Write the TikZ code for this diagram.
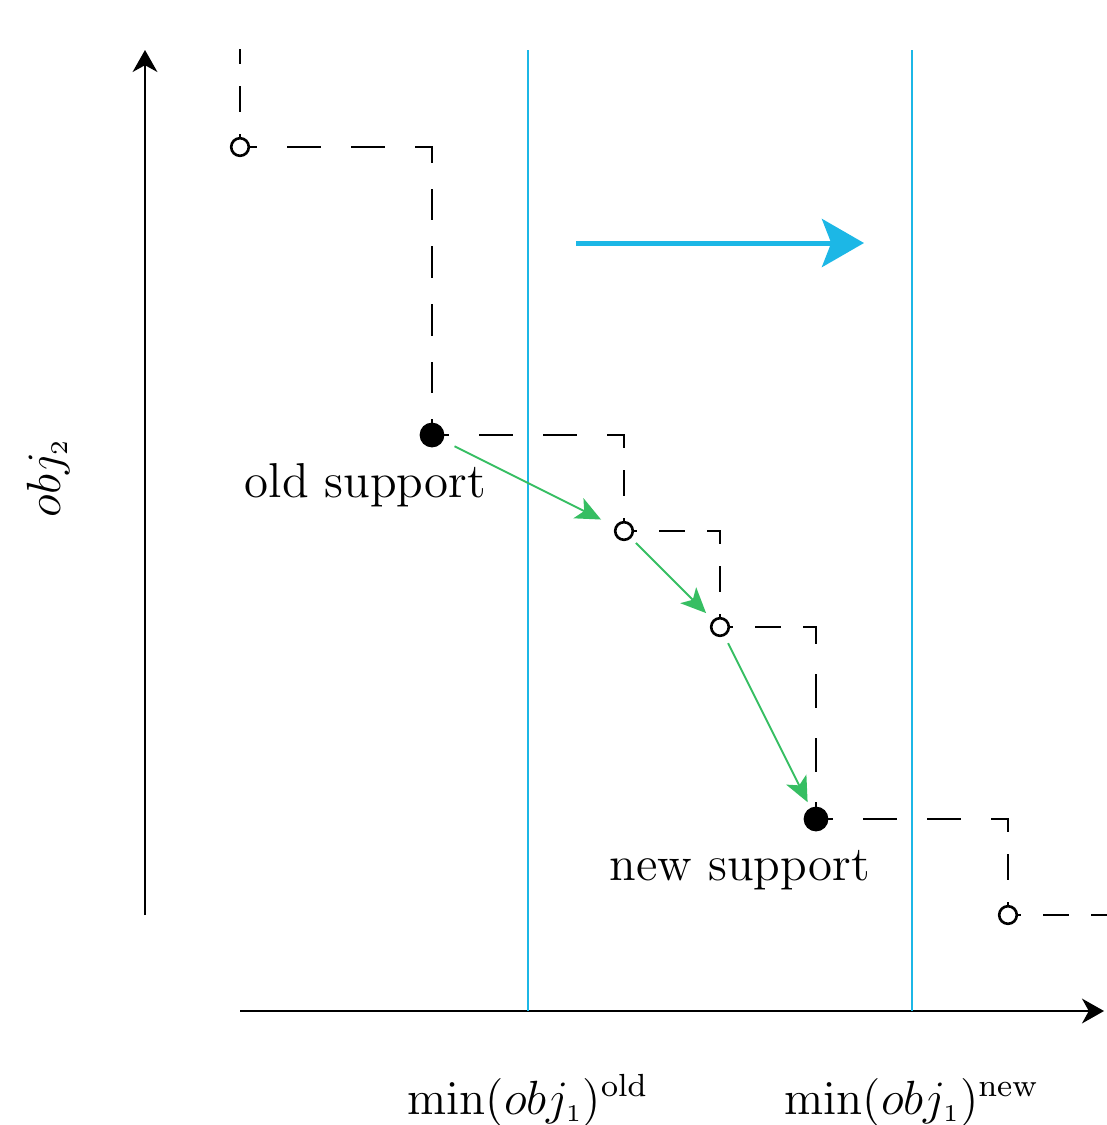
\documentclass[tikz,border=0pt]{standalone}
\usetikzlibrary{arrows.meta}
\definecolor{cblue}{RGB}{28,183,230}
\definecolor{cgreen}{RGB}{54,190,98}
\begin{document}
\begin{tikzpicture}[x=0.25pt,y=-0.25pt,
  every node/.style={font=\fontsize{12.25}{14}\selectfont},
  dsh/.style={line width=0.7pt, line cap=rect},
  d64/.style={dsh, dash pattern=on 8pt off 8pt, dash phase=4pt},
  d48/.style={dsh, dash pattern=on 6pt off 6pt, dash phase=3pt},
  d576/.style={dsh, dash pattern=on 7.2pt off 7.2pt, dash phase=3.6pt},
  opendot/.style={circle, draw, line width=0.65pt, fill=white, minimum size=4.4pt, inner sep=0pt},
  fulldot/.style={circle, fill=black, minimum size=6.2pt, inner sep=0pt},
  axis/.style={line width=0.5pt, -{Stealth[length=5.5pt,width=6.2pt,inset=1.7pt]}},
  vline/.style={cblue, line width=0.5pt},
  garrow/.style={cgreen, line width=0.5pt, -{Stealth[length=6.3pt,width=5.6pt,inset=1.6pt]}},
  lbl/.style={inner sep=0pt},
  mlbl/.style={inner sep=0pt, font=\fontsize{11.7}{14}\selectfont},
]
\useasboundingbox (0,0) rectangle (1106,1125);

% corner coordinates
\coordinate (top) at (240,50);
\coordinate (c1) at (432,147);
\coordinate (c2) at (624,435);
\coordinate (c3) at (720,531);
\coordinate (c4) at (816,627);
\coordinate (c5) at (1008,819);
\coordinate (end) at (1106,915);

% axes
\coordinate (ya0) at (145,915);
\coordinate (ya1) at (145,50);
\coordinate (xa0) at (240,1011);
\coordinate (xa1) at (1104,1011);
\draw[axis] (ya0) -- (ya1);
\draw[axis] (xa0) -- (xa1);

% blue vertical lines
\coordinate (v1t) at (528,50);
\coordinate (v1b) at (528,1011);
\coordinate (v2t) at (912,50);
\coordinate (v2b) at (912,1011);
\draw[vline] (v1t) -- (v1b);
\draw[vline] (v2t) -- (v2b);

% blue arrow
\coordinate (ba) at (576,243);
\coordinate (bb) at (864,243);
\draw[cblue, line width=1.25pt, -{Stealth[length=10.5pt,width=12pt,inset=2.3pt]}] (ba) -- (bb);

% point positions
\path (240,147) coordinate (q0) (432,435) coordinate (q1) (624,531) coordinate (q2)
      (720,627) coordinate (q3) (816,819) coordinate (q4) (1008,915) coordinate (q5);

% dashed staircase
\draw[d48] (q0) -- (top);
\draw[d64] (q0) -- (c1);
\draw[d576] (c1) -- (q1);
\draw[d64] (q1) -- (c2);
\draw[d48] (c2) -- (q2);
\draw[d48] (q2) -- (c3);
\draw[d48] (c3) -- (q3);
\draw[d48] (q3) -- (c4);
\draw[d64] (c4) -- (q4);
\draw[d64] (q4) -- (c5);
\draw[d48] (c5) -- (q5);
\draw[d48] (q5) -- (end);

% dots
\node[opendot] (p0) at (q0) {};
\node[fulldot] (p1) at (q1) {};
\node[opendot] (p2) at (q2) {};
\node[opendot] (p3) at (q3) {};
\node[fulldot] (p4) at (q4) {};
\node[opendot] (p5) at (q5) {};

% green arrows
\draw[garrow, shorten <=3pt, shorten >=3.9pt] (p1) -- (p2);
\draw[garrow, shorten <=1.7pt, shorten >=2.4pt] (p2) -- (p3);
\draw[garrow, shorten <=2pt, shorten >=1.4pt] (p3) -- (p4);

% labels
\node[lbl, anchor=base west] (old) at (244,497) {old support};
\node[lbl, anchor=base west] (new) at (609,880) {new support};
\node[mlbl, anchor=base] (mo) at (528,1114) {$\min(obj_{\scriptscriptstyle 1})^{\mathrm{old}}$};
\node[mlbl, anchor=base] (mn) at (912,1114) {$\min(obj_{\scriptscriptstyle 1})^{\mathrm{new}}$};
\node[lbl, anchor=base, rotate=90] (yl) at (60,478) {$obj_{\scriptscriptstyle 2}$};
\end{tikzpicture}
\end{document}
